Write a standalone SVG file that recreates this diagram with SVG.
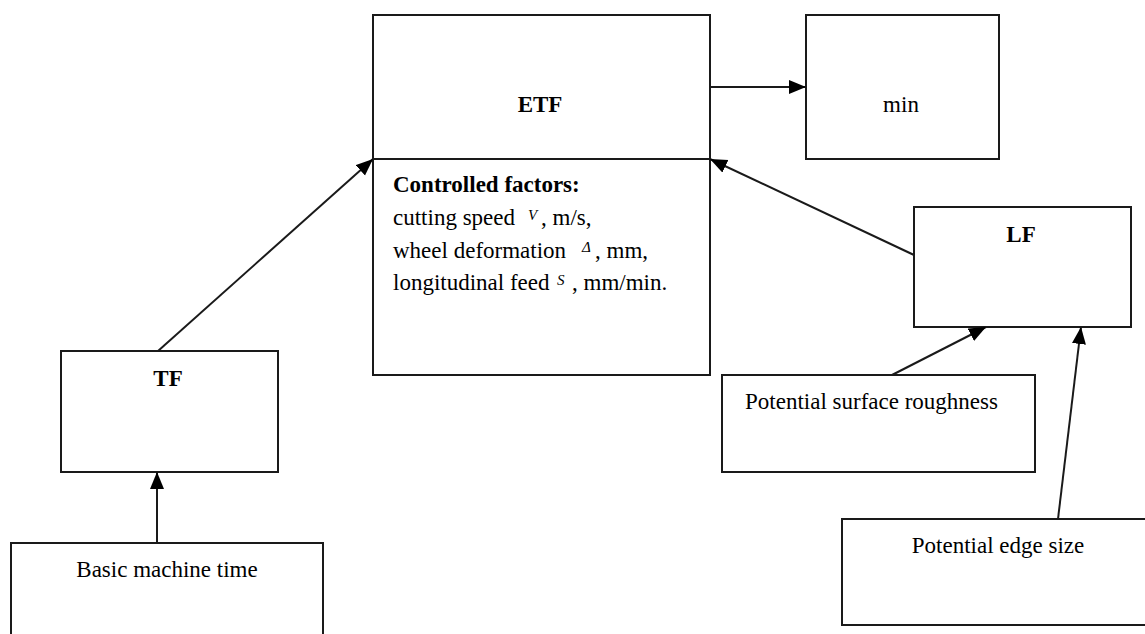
<svg xmlns="http://www.w3.org/2000/svg" width="1145" height="634" viewBox="0 0 1145 634">
<style>
.box{fill:#fff;stroke:#1a1a1a;stroke-width:2}
.t{font-family:'Liberation Serif','DejaVu Serif','Times New Roman',Times,serif;font-size:23px;fill:#000}
.b{font-weight:bold}
.m{text-anchor:middle}
.v{font-style:italic;font-size:15px}
.c{fill:none;stroke:#1a1a1a;stroke-width:2}
</style>
<defs>
<marker id="ah" markerUnits="userSpaceOnUse" markerWidth="18" markerHeight="16" refX="17" refY="7" orient="auto">
<path d="M0,0 L17,7 L0,14 Z" fill="#000"/>
</marker>
</defs>
<rect width="1145" height="634" fill="#fff"/>
<g id="etf">
<rect class="box" x="373" y="15" width="337" height="144"/>
<text class="t b m" x="540" y="112">ETF</text>
</g>
<g id="factors">
<rect class="box" x="373" y="159" width="337" height="216"/>
<text class="t b" x="393" y="192">Controlled factors:</text>
<text class="t" x="393" y="225">cutting speed <tspan class="v" x="528" y="220">V</tspan><tspan x="541" y="225">, m/s,</tspan></text>
<text class="t" x="393" y="258">wheel deformation <tspan class="v" x="582" y="252">Δ</tspan><tspan x="595" y="258">, mm,</tspan></text>
<text class="t" x="393" y="290">longitudinal  feed <tspan class="v" x="557" y="285">S</tspan><tspan x="572" y="290">, mm/min.</tspan></text>
</g>
<g id="min">
<rect class="box" x="806" y="15" width="193" height="144"/>
<text class="t m" x="901" y="112">min</text>
</g>
<g id="lf">
<rect class="box" x="914" y="207" width="217" height="120"/>
<text class="t b m" x="1021" y="242">LF</text>
</g>
<g id="psr">
<rect class="box" x="722" y="375" width="313" height="97"/>
<text class="t" x="745" y="409">Potential  surface roughness</text>
</g>
<g id="pes">
<rect class="box" x="842" y="519" width="310" height="106"/>
<text class="t m" x="998" y="553">Potential  edge size</text>
</g>
<g id="tf">
<rect class="box" x="61" y="351" width="217" height="121"/>
<text class="t b m" x="168" y="386">TF</text>
</g>
<g id="bmt">
<rect class="box" x="11" y="543" width="312" height="100"/>
<text class="t m" x="167" y="577">Basic machine time</text>
</g>
<g id="connectors">
<line class="c" x1="710" y1="87" x2="806" y2="87" marker-end="url(#ah)"/>
<line class="c" x1="914" y1="255" x2="710" y2="159" marker-end="url(#ah)"/>
<line class="c" x1="892" y1="375" x2="986" y2="327" marker-end="url(#ah)"/>
<line class="c" x1="1058" y1="519" x2="1081" y2="327" marker-end="url(#ah)"/>
<line class="c" x1="158" y1="351" x2="373" y2="159" marker-end="url(#ah)"/>
<line class="c" x1="157" y1="543" x2="157" y2="472" marker-end="url(#ah)"/>
</g>
</svg>
